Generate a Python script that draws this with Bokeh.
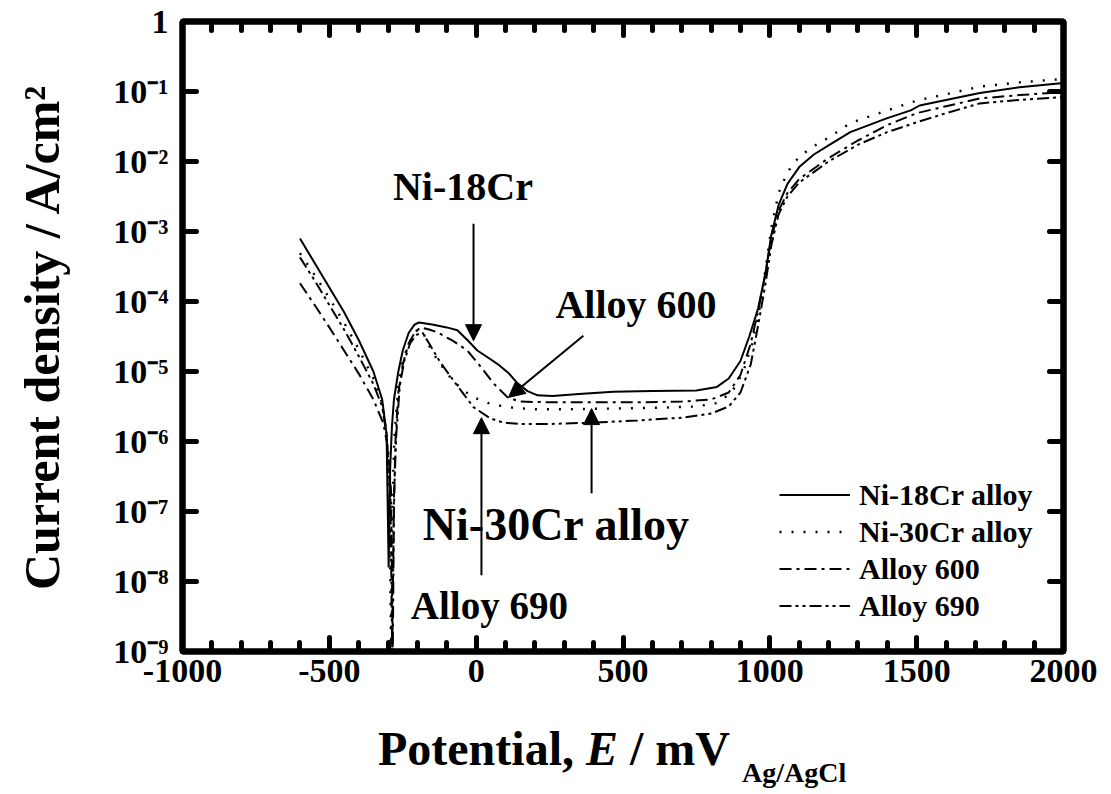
import numpy as np
from bokeh.plotting import figure
from bokeh.models import (LinearAxis, LogAxis, FixedTicker, SingleIntervalTicker, Label, Arrow,
                          NormalHead, Legend, LegendItem, Div)
from bokeh.layouts import column
from bokeh.embed import file_html
from bokeh.resources import INLINE

# ---------------- data ----------------
# potentials in mV vs Ag/AgCl, current densities as log10(A/cm2)
E_18 = [-600,-550,-500,-450,-400,-350,-320,-305,-298,-293,-287,-280,-265,-250,-230,-210,-195,-150,-100,-64,-30,4,40,72,110,141,175,209,260,350,467,600,750,820,860,900,930,960,985,1005,1030,1060,1100,1150,1200,1274,1400,1480,1510,1600,1715,1850,2000]
L_18 = [-3.10,-3.45,-3.80,-4.15,-4.55,-5.00,-5.40,-5.90,-7.80,-6.40,-5.80,-5.40,-5.00,-4.70,-4.45,-4.33,-4.30,-4.33,-4.37,-4.41,-4.55,-4.70,-4.80,-4.89,-5.02,-5.17,-5.28,-5.34,-5.35,-5.32,-5.29,-5.28,-5.27,-5.22,-5.10,-4.85,-4.50,-4.10,-3.60,-3.05,-2.62,-2.32,-2.08,-1.90,-1.77,-1.58,-1.38,-1.27,-1.20,-1.12,-1.02,-0.94,-0.88]

E_30 = [-600,-550,-500,-450,-400,-350,-320,-305,-295,-290,-285,-278,-265,-250,-230,-210,-196,-180,-166,-130,-87,-50,-9,40,83,130,200,300,450,600,750,820,870,910,940,965,985,1005,1030,1060,1100,1150,1200,1274,1400,1500,1600,1715,1850,2000]
L_30 = [-3.31,-3.62,-3.95,-4.30,-4.68,-5.10,-5.45,-5.90,-6.80,-9.00,-6.80,-5.90,-5.20,-4.85,-4.60,-4.45,-4.39,-4.45,-4.59,-4.85,-5.09,-5.25,-5.37,-5.45,-5.49,-5.52,-5.54,-5.54,-5.53,-5.52,-5.50,-5.45,-5.30,-5.00,-4.60,-4.10,-3.55,-2.95,-2.45,-2.15,-1.93,-1.78,-1.66,-1.45,-1.27,-1.13,-1.04,-0.93,-0.87,-0.82]

E_600 = [-600,-550,-500,-450,-400,-350,-316,-300,-290,-284,-280,-275,-265,-250,-230,-210,-190,-160,-132,-80,-30,15,59,107,150,250,400,550,700,800,860,900,935,962,985,1005,1030,1060,1100,1200,1300,1400,1500,1600,1715,1850,2000]
L_600 = [-3.74,-4.05,-4.37,-4.70,-5.03,-5.40,-5.74,-6.10,-6.70,-9.00,-7.00,-6.00,-5.30,-4.90,-4.60,-4.45,-4.37,-4.40,-4.44,-4.56,-4.70,-4.93,-5.17,-5.37,-5.43,-5.44,-5.44,-5.44,-5.43,-5.40,-5.30,-5.05,-4.60,-4.10,-3.60,-3.10,-2.70,-2.45,-2.25,-1.95,-1.70,-1.48,-1.31,-1.21,-1.10,-1.05,-1.01]

E_690 = [-600,-550,-500,-450,-400,-350,-320,-305,-292,-286,-280,-272,-260,-245,-225,-205,-183,-160,-122,-70,-9,48,93,150,250,400,550,700,800,860,900,935,962,985,1005,1030,1060,1100,1200,1300,1400,1500,1600,1715,1850,2000]
L_690 = [-3.37,-3.70,-4.05,-4.40,-4.78,-5.18,-5.50,-5.90,-6.80,-9.00,-6.80,-5.90,-5.20,-4.85,-4.60,-4.48,-4.44,-4.60,-4.87,-5.17,-5.51,-5.67,-5.73,-5.75,-5.75,-5.73,-5.70,-5.66,-5.60,-5.50,-5.30,-4.90,-4.30,-3.75,-3.20,-2.75,-2.50,-2.30,-2.00,-1.76,-1.58,-1.44,-1.31,-1.17,-1.12,-1.08]

series_names = ["Ni-18Cr alloy", "Ni-30Cr alloy", "Alloy 600", "Alloy 690"]

x_ticks = [-1000, -500, 0, 500, 1000, 1500, 2000]
x_tick_labels = ["-1000", "-500", "0", "500", "1000", "1500", "2000"]
y_ticks = [1e-9, 1e-8, 1e-7, 1e-6, 1e-5, 1e-4, 1e-3, 1e-2, 1e-1, 1]
y_tick_labels = ["10\u207b\u2079", "10\u207b\u2078", "10\u207b\u2077", "10\u207b\u2076", "10\u207b\u2075",
                 "10\u207b\u2074", "10\u207b\u00b3", "10\u207b\u00b2", "10\u207b\u00b9", "1"]
y_title = "Current density / A/cm\u00b2"
x_title = ("Potential, ", "E", " / mV", "Ag/AgCl")

# annotations: text, x (mV), log10 y of anchor, alignment, font size
ann_texts = ["Ni-18Cr", "Alloy 600", "Ni-30Cr alloy", "Alloy 690"]
ann_x = [-45, 270, 273, 45]
ann_logy = [-2.35, -4.04, -7.19, -8.34]
ann_align = ["center", "left", "center", "center"]
ann_size = ["40px", "40px", "46px", "39px"]
# arrows: start (x, log y) -> end (x, log y)
arr_x0 = [-9, 365, 393, 18]
arr_l0 = [-2.89, -4.49, -6.74, -7.91]
arr_x1 = [-9, 110, 393, 18]
arr_l1 = [-4.56, -5.37, -5.53, -5.66]

FONT = "Liberation Serif"

p = figure(width=1111, height=725, x_range=(-1000, 2000), y_range=(1e-9, 1),
           y_axis_type="log", output_backend="svg", toolbar_location=None,
           min_border_left=182, min_border_right=48, min_border_top=21, min_border_bottom=74)
p.grid.visible = False
p.outline_line_color = "black"
p.outline_line_width = 6
p.background_fill_color = "white"
p.border_fill_color = "white"

p.xaxis.ticker = SingleIntervalTicker(interval=500, num_minor_ticks=5)
p.xaxis.major_label_overrides = {t: s for t, s in zip(x_ticks, x_tick_labels)}
p.yaxis.ticker = FixedTicker(ticks=y_ticks)
p.yaxis.major_label_overrides = {t: s for t, s in zip(y_ticks, y_tick_labels)}

def style_axis(ax, minor=True):
    ax.axis_line_width = 6
    ax.axis_line_color = "black"
    ax.major_tick_in = 14
    ax.major_tick_out = 0
    ax.major_tick_line_width = 5
    ax.major_tick_line_cap = "round"
    if minor:
        ax.minor_tick_in = 9
        ax.minor_tick_out = 0
        ax.minor_tick_line_width = 5
        ax.minor_tick_line_cap = "round"
    else:
        ax.minor_tick_line_color = None
    ax.major_label_text_font = FONT
    ax.major_label_text_font_style = "bold"
    ax.major_label_text_font_size = "34px"
    ax.major_label_text_color = "black"

style_axis(p.xaxis[0])
p.xaxis.major_label_standoff = 8
style_axis(p.yaxis[0], minor=False)
p.yaxis.major_label_standoff = 14
p.yaxis.axis_label = y_title
p.yaxis.axis_label_text_font = FONT
p.yaxis.axis_label_text_font_style = "bold"
p.yaxis.axis_label_text_font_size = "50px"
p.yaxis.axis_label_text_color = "black"
p.yaxis.axis_label_standoff = 40

top = LinearAxis(ticker=SingleIntervalTicker(interval=500, num_minor_ticks=5))
style_axis(top)
top.major_label_text_font_size = "8px"
top.major_label_overrides = {t: "" for t in x_ticks}
top.major_label_standoff = 0
p.add_layout(top, "above")

right = LogAxis(ticker=FixedTicker(ticks=y_ticks))
style_axis(right, minor=False)
right.major_label_text_font_size = "8px"
right.major_label_overrides = {t: "" for t in y_ticks}
right.major_label_standoff = 0
p.add_layout(right, "right")

# ---------------- curves ----------------
def val(logs):
    return [10.0 ** v for v in logs]

r1 = p.line(E_18, val(L_18), line_color="black", line_width=2)
r2 = p.line(E_30, val(L_30), line_color="black", line_width=2.4, line_dash="2 10")
r3 = p.line(E_600, val(L_600), line_color="black", line_width=2, line_dash="12 5 3 5")
r4 = p.line(E_690, val(L_690), line_color="black", line_width=2, line_dash="12 4 3 4 3 4")

# ---------------- legend ----------------
legend = Legend(items=[LegendItem(label=n, renderers=[r]) for n, r in zip(series_names, [r1, r2, r3, r4])],
                location=(597, 27), border_line_color=None, background_fill_alpha=0,
                padding=0, margin=0, spacing=0, glyph_width=71, glyph_height=37, label_height=37,
                label_standoff=9, label_text_font=FONT, label_text_font_style="bold",
                label_text_font_size="30px", label_text_baseline="middle", label_text_color="black")
p.add_layout(legend)

# ---------------- annotations ----------------
for t, x, ly, al, fs in zip(ann_texts, ann_x, ann_logy, ann_align, ann_size):
    p.add_layout(Label(x=x, y=10.0 ** ly, text=t, text_font=FONT, text_font_style="bold",
                       text_font_size=fs, text_align=al, text_baseline="alphabetic",
                       text_color="black"))
for x0, l0, x1, l1 in zip(arr_x0, arr_l0, arr_x1, arr_l1):
    p.add_layout(Arrow(x_start=x0, y_start=10.0 ** l0, x_end=x1, y_end=10.0 ** l1,
                       line_width=2, line_color="black",
                       end=NormalHead(size=16, fill_color="black", line_color="black", line_width=1)))

# ---------------- x axis title (rich text below the plot) ----------------
html = ('<div style="margin:0;padding:0;margin-left:378px;font-family:\'Liberation Serif\';'
        'font-weight:bold;font-size:48px;line-height:48px;white-space:nowrap;color:black">'
        + x_title[0] + '<i>' + x_title[1] + '</i>' + x_title[2]
        + '<span style="font-size:28px;position:relative;top:17px;margin-left:12px">'
        + x_title[3] + '</span></div>')
div = Div(text=html, width=1111, height=69, margin=0)

layout = column(p, div, spacing=0)
open("out.html", "w").write(file_html(layout, INLINE))
